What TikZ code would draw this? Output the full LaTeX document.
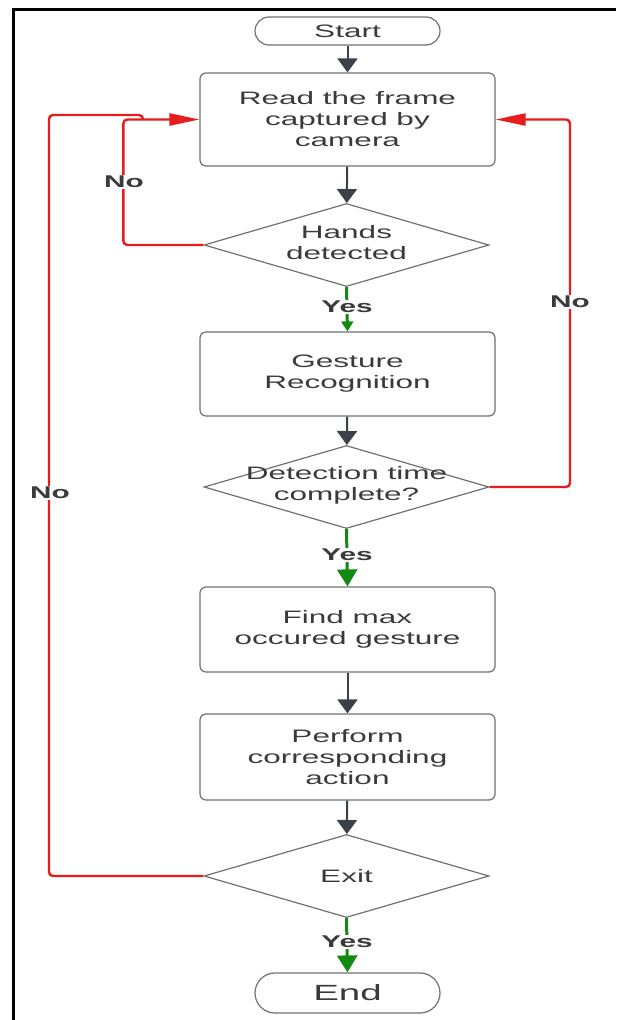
\documentclass[tikz,border=0pt]{standalone}
\usepackage{fontspec}
\setmainfont{Liberation Sans}[FakeStretch=1.75]
\usetikzlibrary{shapes.geometric,arrows.meta}
\definecolor{arr}{HTML}{3B4049}
\definecolor{bord}{HTML}{707070}
\definecolor{txt}{HTML}{3A3A3A}
\definecolor{myred}{HTML}{E81C1C}
\definecolor{mygreen}{HTML}{128A12}
\begin{document}
\begin{tikzpicture}[x=1pt,y=-1pt,
  proc/.style={draw=bord, line width=1.2pt, rounded corners=6pt, minimum width=295pt, inner sep=0pt, align=center, text=txt, font=\fontsize{18}{21}\selectfont},
  term/.style={draw=bord, line width=1.2pt, minimum width=185pt, inner sep=0pt, text=txt},
  dec/.style={draw=bord, line width=1.2pt, diamond, aspect=3.43, minimum width=285pt, minimum height=83pt, inner sep=0pt},
  dtext/.style={align=center, text=txt, font=\fontsize{18}{21}\selectfont, inner sep=0pt},
  darr/.style={draw=arr, line width=2pt, -{Triangle[length=14pt,width=20pt]}},
  rline/.style={draw=myred, line width=2.4pt, rounded corners=4pt},
  rarr/.style={rline, -{Triangle[length=30pt,width=12pt]}},
  gline/.style={draw=mygreen, line width=3pt},
  lab/.style={fill=white, inner sep=1.5pt, text=txt, font=\fontsize{17}{17}\selectfont\bfseries}
]
\useasboundingbox (0,0) rectangle (616,1020);
\draw[line width=3pt] (13,1020) -- (13,9) -- (616,9);

\node[term, minimum height=28pt, rounded corners=14pt, font=\fontsize{18}{18}\selectfont] (start) at (347.5,31) {Start};
\node[proc, minimum height=93pt] (b1) at (347.5,119.5) {Read the frame\\captured by\\camera};
\node[dec] (d1) at (346.5,245) {};
\node[dtext] (t1) at (346.5,243) {Hands\\detected};
\node[proc, minimum height=84pt] (b2) at (347.5,374) {Gesture\\Recognition};
\node[dec] (d2) at (346.5,487) {};
\node[dtext] (t2) at (346.5,485) {Detection time\\complete?};
\node[proc, minimum height=85pt] (b3) at (347.5,629.5) {Find max\\occured gesture};
\node[proc, minimum height=86pt] (b4) at (347.5,757) {Perform\\corresponding\\action};
\node[dec] (d3) at (346.5,876) {};
\node[dtext] (t3) at (346.5,876) {Exit};
\node[term, minimum height=40pt, rounded corners=20pt, font=\fontsize{22}{22}\selectfont] (end) at (347.5,993) {End};

\draw[darr] (start) -- (b1);
\draw[darr] (b1) -- (d1);
\draw[darr] (b2) -- (d2);
\draw[darr] (b3) -- (b4);
\draw[darr] (b4) -- (d3);

\draw[gline, -{Triangle[length=10pt,width=12pt]}] (d1.south) -- (b2.north);
\draw[gline, -{Triangle[length=17pt,width=20pt]}] (d2.south) -- (b3.north);
\draw[gline, -{Triangle[length=17pt,width=20pt]}] (d3.south) -- (end.north);
\node[lab] (y1) at (347,307) {Yes};
\node[lab] (y2) at (347,555) {Yes};
\node[lab] (y3) at (347,942) {Yes};

\coordinate (oc) at (49,115);
\coordinate (m) at (143,119.5);
\coordinate (rx) at (570,300);
\draw[rline] (d3.west) -| (oc) -| (m);
\draw[rarr] (d1.west) -- ++(-80,0) |- (b1.west);
\draw[rarr] (d2.east) -| (rx) |- (b1.east);

\node[lab] (n1) at (124,182) {No};
\node[lab] (n2) at (570,302) {No};
\node[lab] (n3) at (50,493) {No};
\end{tikzpicture}
\end{document}
